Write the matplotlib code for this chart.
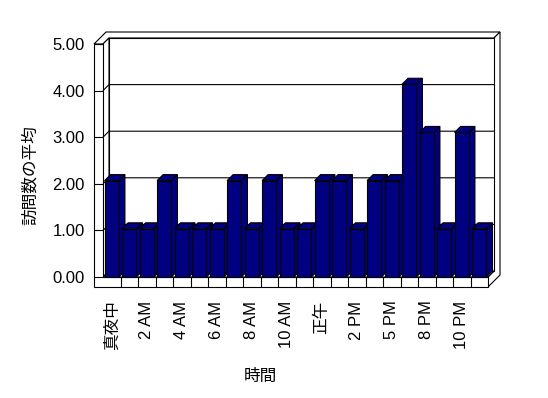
import matplotlib
matplotlib.use("Agg")
import matplotlib.pyplot as plt
from matplotlib.patches import Polygon

plt.rcParams['font.family'] = ['Liberation Sans', 'Noto Sans CJK JP', 'DejaVu Sans']

# ---- data ----
values = [2, 1, 1, 2, 1, 1, 1, 2, 1, 2, 1, 1, 2, 2, 1, 2, 2, 4, 3, 1, 3, 1]
tick_positions = [0, 2, 4, 6, 8, 10, 12, 14, 16, 18, 20]
tick_labels = ['真夜中', '2 AM', '4 AM', '6 AM', '8 AM', '10 AM', '正午', '2 PM', '5 PM', '8 PM', '10 PM']
y_ticks = [0, 1, 2, 3, 4, 5]
y_tick_labels = ['0.00', '1.00', '2.00', '3.00', '4.00', '5.00']
x_title = '時間'
y_title = '訪問数の平均'

# ---- layout (pixels) ----
W, H = 548, 398
n = len(values)
X0_PX, X1_PX = 103, 488      # front plane of the category axis
Y0_PX, Y1_PX = 277, 44       # value 0 and value 5 on the front plane
SX = (X1_PX - X0_PX) / n
SY = (Y0_PX - Y1_PX) / 5.0

fig = plt.figure(figsize=(W / 100, H / 100), dpi=100)
ax = fig.add_axes([X0_PX / W, 1 - Y0_PX / H, (X1_PX - X0_PX) / W, (Y0_PX - Y1_PX) / H])
ax.set_xlim(-0.5, n - 0.5)
ax.set_ylim(0, 5)
for s in ax.spines.values():
    s.set_visible(False)

lw = 0.8
DX, DY = 6 / SX, 6 / SY          # depth vector (data units)
x_in, x_r = -0.5, n - 0.5
x_out = x_in - 9 / SX
y_slab = -10 / SY
PERSP = 1.034                     # bars are nearer the viewer than the back wall
BW = 0.41
NAVY = '#000080'


def poly(pts, fc='white', z=1):
    ax.add_patch(Polygon(pts, closed=True, facecolor=fc, edgecolor='black',
                         linewidth=lw, clip_on=False, zorder=z, joinstyle='miter'))


def line(xs, ys, z=1.5):
    ax.plot(xs, ys, color='black', linewidth=lw, clip_on=False, zorder=z,
            solid_capstyle='butt')


# top face of walls
poly([(x_out, 5), (x_in, 5), (x_in + DX, 5 + DY), (x_r + DX, 5 + DY),
      (x_r + 2 * DX, 5 + 2 * DY), (x_out + 2 * DX, 5 + 2 * DY)])
# right side of back wall and floor slab
poly([(x_r + DX, 5 + DY), (x_r + 2 * DX, 5 + 2 * DY), (x_r + 2 * DX, y_slab + 2 * DY),
      (x_r, y_slab), (x_r, 0), (x_r + DX, DY)])
# back wall inner face
poly([(x_in + DX, DY), (x_r + DX, DY), (x_r + DX, 5 + DY), (x_in + DX, 5 + DY)])
# left wall inner face
poly([(x_in, 0), (x_in, 5), (x_in + DX, 5 + DY), (x_in + DX, DY)])
# floor top
poly([(x_in, 0), (x_r, 0), (x_r + DX, DY), (x_in + DX, DY)])
# left wall front + floor slab front
poly([(x_out, 5), (x_in, 5), (x_in, 0), (x_r, 0), (x_r, y_slab), (x_out, y_slab)])

# gridlines on back wall and ticks on wall front
for v in y_ticks:
    if 0 < v < 5:
        line([x_in, x_in + DX, x_r + DX], [v, v + DY, v + DY])
    line([x_out, x_in], [v, v])
# category dividers on slab front
for k in range(1, n):
    line([k - 0.5, k - 0.5], [0, y_slab])

# bars
for i, v in enumerate(values):
    h = v * PERSP
    z = 3 + i * 0.01
    poly([(i + BW, 0), (i + BW + DX, DY), (i + BW + DX, h + DY), (i + BW, h)], NAVY, z)
    poly([(i - BW, h), (i + BW, h), (i + BW + DX, h + DY), (i - BW + DX, h + DY)], NAVY, z)
    poly([(i - BW, 0), (i + BW, 0), (i + BW, h), (i - BW, h)], NAVY, z)

# axes text
ax.set_yticks(y_ticks)
ax.set_yticklabels(y_tick_labels, fontsize=12)
ax.tick_params(axis='y', length=0, pad=13)
ax.set_xticks(tick_positions)
ax.set_xticklabels(tick_labels, fontsize=12, rotation=90, va='top')
ax.tick_params(axis='x', length=0, pad=17)

fig.text(260 / W, 1 - 376 / H, x_title, fontsize=12, ha='center', va='center')
fig.text(30 / W, 1 - 175 / H, y_title, fontsize=12, ha='center', va='center', rotation=90)

fig.savefig('out.png', dpi=100)
